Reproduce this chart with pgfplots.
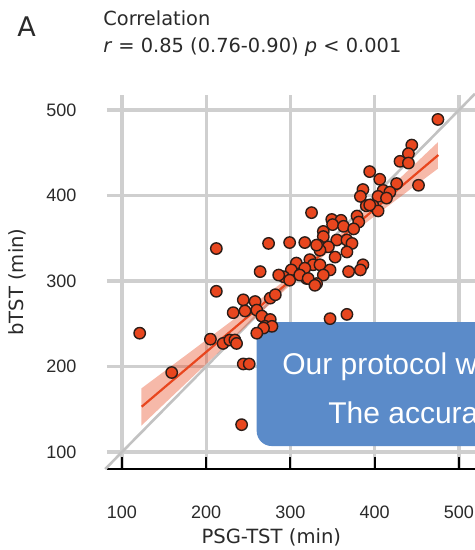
\documentclass[border=0pt]{standalone}
\usepackage{fontspec}
\setmainfont{DejaVu Sans}
\newfontfamily\arial{Liberation Sans}
\usepackage{pgfplots}
\pgfplotsset{compat=1.18}
\definecolor{cdot}{HTML}{E8461E}
\definecolor{cedge}{HTML}{2B1D18}
\definecolor{cgrid}{HTML}{CFCFCF}
\definecolor{cdiag}{HTML}{C2C2C2}
\definecolor{cbox}{HTML}{5B8BC9}
\definecolor{ctext}{HTML}{2A2A2A}

\begin{document}
\begin{tikzpicture}
\begin{axis}[
  scale only axis, width=184.1pt, height=187.05pt,
  xmin=82, xmax=519, ymin=80, ymax=517.5,
  axis x line=bottom, axis y line=left,
  x axis line style={-, line width=1pt, black},
  y axis line style={draw=none},
  xtick={100,200,...,500}, ytick={100,200,...,500},
  tick align=inside, major tick length=6pt,
  xtick style={line width=1pt, black},
  ytick style={draw=none},
  grid=major, major grid style={line width=1.6pt, cgrid},
  tick label style={font=\arial\fontsize{9}{10}\selectfont, text=ctext},
  /pgf/number format/assume math mode=true,
  xticklabel style={anchor=base, yshift=-24.5pt, inner sep=0pt},
  yticklabel style={anchor=east, xshift=-15pt, inner sep=0pt},
  xlabel={PSG-TST (min)}, ylabel={bTST (min)},
  label style={font=\fontsize{9.8}{11}\selectfont, text=ctext},
  xlabel style={at={(axis description cs:0.4468,-0.1978)}, anchor=base},
  ylabel style={at={(axis description cs:-0.2417,0.5)}, anchor=center},
  clip=false,
]
% identity line
\addplot[cdiag, line width=1.3pt] coordinates {(80,80) (519,519)};

% individual nights
\addplot[only marks, mark=*, mark size=2.85pt,
  mark options={fill=cdot, draw=cedge, line width=0.7pt}] coordinates {
  (475,489) (444,459) (440,449) (430,440) (440,438) (394,428) (406,419)
  (452,412) (426,414) (386,407) (383,399) (410,406) (418,404) (404,399)
  (414,397) (390,388) (398,388) (404,382) (394,389) (325,380) (349,372)
  (360,371) (350,366) (363,364) (379,376) (381,369) (339,358) (375,361)
  (339,352) (355,348) (367,348) (373,344) (333,342) (345,340) (335,336)
  (367,334) (353,328) (212,338) (274,344) (299,345) (317,345) (331,342)
  (386,319) (383,313) (369,311) (307,321) (323,325) (327,319) (335,319)
  (347,313) (339,307) (319,303) (331,297) (317,315) (301,313) (292,305)
  (299,301) (264,311) (286,307) (212,288) (244,278) (258,276) (276,280)
  (282,284) (311,307) (321,303) (329,295) (232,263) (246,265) (260,266)
  (266,259) (276,255) (270,247) (278,247) (268,245) (260,239) (121,239)
  (205,232) (220,227) (228,231) (234,231) (236,227) (159,193) (244,203)
  (251,203) (242,132) (347,256) (367,261)
};

% confidence band
\addplot[fill=cdot, fill opacity=0.38, draw=none] coordinates {
  (123,174.4) (150,194.2) (200,231.0) (250,268.0) (300,305.7) (330,329.7)
  (350,346.9) (400,392.4) (450,439.0) (475,462.4)
  (475,431.4) (450,413.0) (400,376.0) (350,337.9) (330,321.7) (300,295.6)
  (250,249.6) (200,203.0) (150,156.2) (123,130.8)
} -- cycle;

% regression line
\addplot[cdot, line width=1.1pt] coordinates {(123.4,153) (475.5,447.4)};

% overlay box
\fill[cbox, rounded corners=7.5pt] (axis cs:259.9,107) rectangle (axis cs:600,252);
\node[anchor=base west, inner sep=0pt, text=white, font=\arial\fontsize{15}{18}\selectfont]
  at (axis cs:289.9,190.1) {Our protocol w};
\node[anchor=base west, inner sep=0pt, text=white, font=\arial\fontsize{15}{18}\selectfont]
  at (axis cs:344.5,133.9) {The accura};

% titles
\node[anchor=base west, inner sep=0pt, text=ctext, font=\fontsize{9.7}{11}\selectfont]
  at (axis cs:77.4,599.4) {Correlation};
\node[anchor=base west, inner sep=0pt, text=ctext, font=\fontsize{9.7}{11}\selectfont]
  at (axis cs:77.4,567.8) {\textit{r} = 0.85 (0.76-0.90) \textit{p} < 0.001};
\node[anchor=base west, inner sep=0pt, text=ctext, font=\fontsize{13.5}{15}\selectfont]
  at (axis cs:-24.6,586.5) {A};

\coordinate (bl) at (axis cs:-44.8,-14.6);
\coordinate (tr) at (axis cs:519,628.7);
\end{axis}
\pgfresetboundingbox
\path[use as bounding box] (bl) rectangle (tr);
\end{tikzpicture}
\end{document}
